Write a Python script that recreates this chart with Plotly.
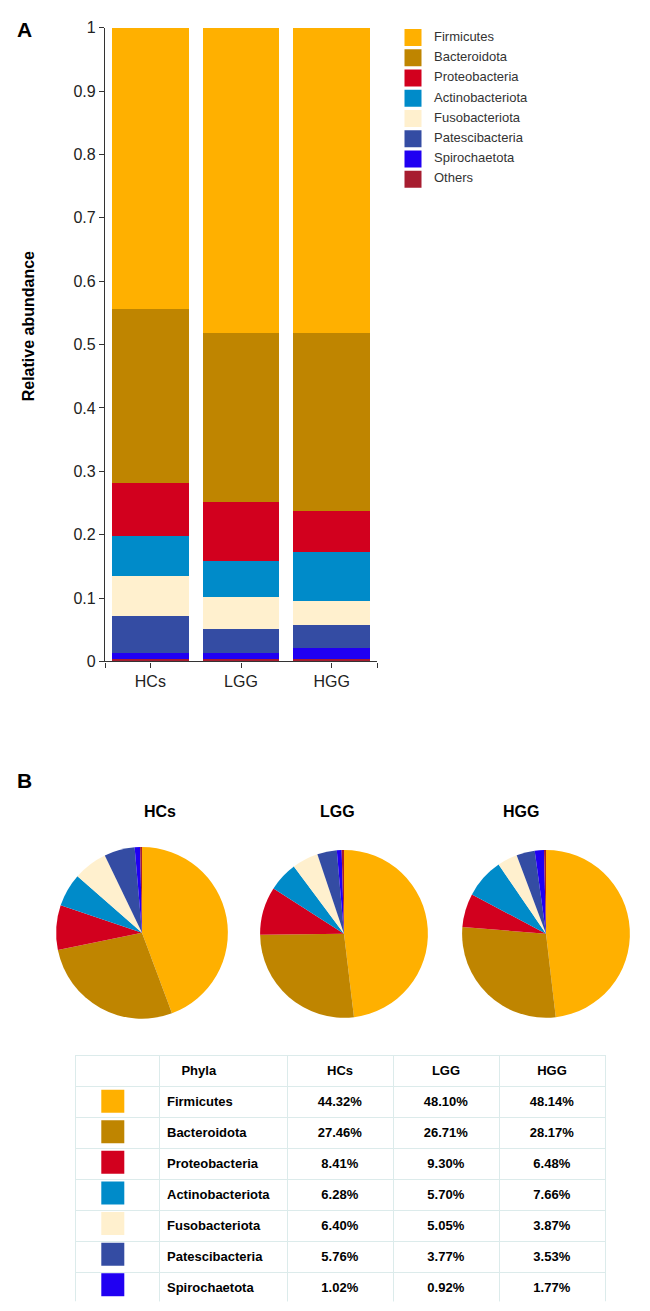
import plotly.graph_objects as go

W, H = 650, 1311

groups = ["HCs", "LGG", "HGG"]
phyla = ["Firmicutes", "Bacteroidota", "Proteobacteria", "Actinobacteriota",
         "Fusobacteriota", "Patescibacteria", "Spirochaetota", "Others"]
colors = ["#FFB000", "#BF8500", "#D2001E", "#008BC9",
          "#FFF0CE", "#344CA3", "#2000F2", "#A71D30"]

# percentages per phylum (same order as phyla)
hcs = [44.32, 27.46, 8.41, 6.28, 6.40, 5.76, 1.02, 0.35]
lgg = [48.10, 26.71, 9.30, 5.70, 5.05, 3.77, 0.92, 0.45]
hgg = [48.14, 28.17, 6.48, 7.66, 3.87, 3.53, 1.77, 0.38]

yticks = [0, 0.1, 0.2, 0.3, 0.4, 0.5, 0.6, 0.7, 0.8, 0.9, 1]

FONT = "Arial, Liberation Sans, sans-serif"


def px(x):
    return x / W


def py(y):
    return 1 - y / H


fig = go.Figure()

# --- A: stacked bars, bottom = Others, top = Firmicutes
for i in reversed(range(len(phyla))):
    fig.add_trace(go.Bar(
        x=[0, 1, 2], y=[hcs[i] / 100, lgg[i] / 100, hgg[i] / 100],
        name=phyla[i], marker=dict(color=colors[i], line=dict(width=0)),
        showlegend=False, xaxis="x", yaxis="y"))

# legend built as swatches + labels
fig.add_trace(go.Scatter(
    x=[0] * len(phyla), y=phyla, mode="markers",
    marker=dict(symbol="square", size=17, color=colors, line=dict(width=0)),
    showlegend=False, hoverinfo="skip", xaxis="x3", yaxis="y3"))
fig.add_trace(go.Scatter(
    x=[1] * len(phyla), y=phyla, mode="text", text=phyla,
    textposition="middle right", textfont=dict(size=13, color="#333", family=FONT),
    showlegend=False, hoverinfo="skip", xaxis="x3", yaxis="y3"))

# --- B: pies
pie_pos = [(142, 937, 87), (344, 938, 85), (546, 938, 85)]
for vals, (cx, cy, r) in zip([hcs, lgg, hgg], pie_pos):
    fig.add_trace(go.Pie(
        labels=phyla, values=vals, sort=False, direction="clockwise", rotation=0,
        marker=dict(colors=colors, line=dict(width=0)), textinfo="none",
        showlegend=False,
        domain=dict(x=[px(cx - r), px(cx + r)], y=[py(cy + r), py(cy - r)])))

# --- table
tab_phyla = phyla[:7]
fmt = lambda v: f"<b>{v:.2f}%</b>"
fig.add_trace(go.Table(
    domain=dict(x=[px(75), px(605)], y=[py(1311), py(1061)]),
    columnwidth=[84, 128, 106, 106, 106],
    header=dict(
        values=["", "&nbsp;&nbsp;&nbsp;&nbsp;<b>Phyla</b>", "<b>HCs</b>",
                "<b>LGG</b>", "<b>HGG</b>"],
        align=["center", "left", "center", "center", "center"],
        height=30, fill=dict(color="rgba(0,0,0,0)"),
        line=dict(color="#DCEBEB", width=1),
        font=dict(size=13, color="black", family=FONT)),
    cells=dict(
        values=[[""] * 7, [f"<b>{p}</b>" for p in tab_phyla],
                [fmt(v) for v in hcs[:7]], [fmt(v) for v in lgg[:7]],
                [fmt(v) for v in hgg[:7]]],
        align=["center", "left", "center", "center", "center"],
        height=31, fill=dict(color="rgba(0,0,0,0)"),
        line=dict(color="#DCEBEB", width=1),
        font=dict(size=13, color="black", family=FONT))))

fig.add_trace(go.Scatter(
    x=[0] * 7, y=tab_phyla, mode="markers",
    marker=dict(symbol="square", size=23, color=colors[:7], line=dict(width=0)),
    showlegend=False, hoverinfo="skip", xaxis="x4", yaxis="y4"))

hidden = dict(visible=False, showgrid=False, zeroline=False, fixedrange=True)

fig.update_layout(
    width=W, height=H, margin=dict(l=0, r=0, t=0, b=0),
    paper_bgcolor="white", plot_bgcolor="white",
    font=dict(family=FONT, color="#222"),
    barmode="stack", bargap=0.155,
    xaxis=dict(domain=[px(105), px(377)], range=[-0.5, 2.5],
               tickvals=[-0.5, 0, 1, 2, 2.5], ticktext=["", *groups, ""],
               ticks="outside", ticklen=5, tickcolor="#333", tickwidth=1.2,
               showline=True, linecolor="#333", linewidth=1.2,
               showgrid=False, zeroline=False, tickfont=dict(size=16)),
    yaxis=dict(domain=[py(662), py(20)], range=[0, 1], tickvals=yticks,
               ticks="outside", ticklen=5, tickcolor="#333", tickwidth=1.2,
               showline=True, linecolor="#333", linewidth=1.2,
               showgrid=False, zeroline=False, tickfont=dict(size=16)),
    xaxis3=dict(domain=[px(400), px(640)], range=[-13 / 21, 227 / 21], **hidden),
    yaxis3=dict(domain=[py(183.75), py(19.75)], range=[7.5, -0.5],
                type="category", categoryarray=phyla, **hidden),
    xaxis4=dict(domain=[px(75), px(159)], range=[-0.45, 0.55], **hidden),
    yaxis4=dict(domain=[py(1309), py(1092)], range=[6.5, -0.5],
                type="category", categoryarray=tab_phyla, **hidden),
    annotations=[
        dict(text="<b>A</b>", x=px(15), y=py(22), xref="paper", yref="paper",
             yanchor="middle", showarrow=False, font=dict(size=21, color="black")),
        dict(text="<b>B</b>", x=px(15), y=py(783), xref="paper", yref="paper",
             yanchor="middle", showarrow=False, font=dict(size=21, color="black")),
        dict(text="<b>Relative abundance</b>", x=px(18), y=py(323),
             xref="paper", yref="paper", textangle=-90, showarrow=False,
             yanchor="middle", font=dict(size=16, color="black")),
        dict(text="<b>HCs</b>", x=px(142), y=py(814), xref="paper", yref="paper",
             yanchor="middle", showarrow=False, font=dict(size=16, color="black")),
        dict(text="<b>LGG</b>", x=px(337), y=py(814), xref="paper", yref="paper",
             yanchor="middle", showarrow=False, font=dict(size=16, color="black")),
        dict(text="<b>HGG</b>", x=px(541), y=py(814), xref="paper", yref="paper",
             yanchor="middle", showarrow=False, font=dict(size=16, color="black")),
    ])

# drop the default page margin so the 650x1311 figure fills the window
fig.write_html("out.html", config={"displayModeBar": False},
               post_script="document.body.style.margin='0';")
